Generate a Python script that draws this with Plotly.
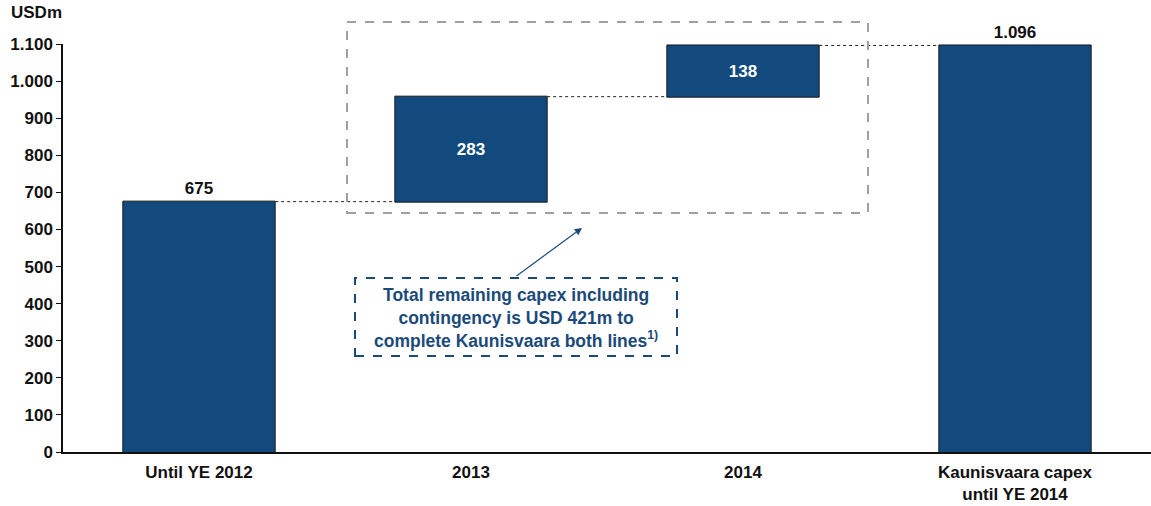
import plotly.graph_objects as go

categories = ["Until YE 2012", "2013", "2014", "Kaunisvaara capex<br>until YE 2014"]
values = [675, 283, 138, 1096]
measures = ["absolute", "relative", "relative", "total"]
labels = ["675", "283", "138", "1.096"]
y_ticks = [0, 100, 200, 300, 400, 500, 600, 700, 800, 900, 1000, 1100]

BAR = "#124A7D"
BLUE_TXT = "#1B4A7A"
FONT = "Liberation Sans, Arial, sans-serif"
FS = 17

fig = go.Figure()
fig.add_trace(go.Waterfall(
    x=categories, y=values, measure=measures,
    text=labels, textposition=["outside", "inside", "inside", "outside"],
    insidetextfont=dict(color="white", size=FS, family=FONT, weight="bold"),
    outsidetextfont=dict(color="#111111", size=FS, family=FONT, weight="bold"),
    insidetextanchor="middle",
    increasing=dict(marker=dict(color=BAR, line=dict(color="#1a1a1a", width=1))),
    decreasing=dict(marker=dict(color=BAR, line=dict(color="#1a1a1a", width=1))),
    totals=dict(marker=dict(color=BAR, line=dict(color="#1a1a1a", width=1))),
    connector=dict(mode="between", line=dict(color="#222222", width=1, dash="dot")),
    width=0.56, cliponaxis=False, showlegend=False,
))

fig.update_layout(
    width=1151, height=506,
    margin=dict(l=63, r=0, t=44, b=54, autoexpand=False),
    paper_bgcolor="white", plot_bgcolor="white",
    separators=",.",
    font=dict(family=FONT, size=FS, color="#111111"),
    xaxis=dict(showline=True, linecolor="#111111", linewidth=1.5, ticks="",
               tickfont=dict(size=FS, family=FONT, weight="bold"),
               ticklabelstandoff=4, automargin=False,
               showgrid=False, zeroline=False),
    yaxis=dict(range=[0, 1100], tickvals=y_ticks, tickformat=",.0f",
               showline=True, linecolor="#111111", linewidth=1.5,
               ticks="outside", ticklen=5, tickcolor="#111111",
               tickfont=dict(size=FS, family=FONT, weight="bold"),
               automargin=False, showgrid=False, zeroline=False),
)

# Dashed grey box around the 2013/2014 steps
fig.add_shape(type="rect", xref="paper", yref="paper",
              x0=(347 - 63) / 1088, x1=(868 - 63) / 1088,
              y0=(452 - 213) / 408, y1=(452 - 22) / 408,
              line=dict(color="#A0A0A0", width=2, dash="dash"))

# Dashed blue callout box
fig.add_shape(type="rect", xref="paper", yref="paper",
              x0=(355 - 63) / 1088, x1=(677 - 63) / 1088,
              y0=(452 - 356) / 408, y1=(452 - 278) / 408,
              line=dict(color=BLUE_TXT, width=2, dash="dash"))

fig.add_annotation(xref="paper", yref="paper",
                   x=(516 - 63) / 1088, y=(452 - 318) / 408,
                   xanchor="center", yanchor="middle",
                   text="Total remaining capex including<br>contingency is USD 421m to<br>complete Kaunisvaara both lines<sup>1)</sup>",
                   showarrow=False, align="center",
                   font=dict(color=BLUE_TXT, size=17.5, family=FONT, weight="bold"))

# Arrow
fig.add_annotation(xref="paper", yref="paper",
                   x=(582 - 63) / 1088, y=(452 - 228) / 408,
                   ax=515 - 582, ay=277 - 228, axref="pixel", ayref="pixel",
                   text="", showarrow=True, arrowhead=2, arrowsize=1.2,
                   arrowwidth=1.2, arrowcolor=BLUE_TXT)

fig.add_annotation(xref="paper", yref="paper", x=(36 - 63) / 1088, y=(452 - 12) / 408,
                   text="USDm", showarrow=False, xanchor="center", yanchor="middle",
                   font=dict(size=FS, family=FONT, weight="bold", color="#111111"))

fig.write_html("out.html", config={"displayModeBar": False},
               post_script="document.body.style.margin='0';")
